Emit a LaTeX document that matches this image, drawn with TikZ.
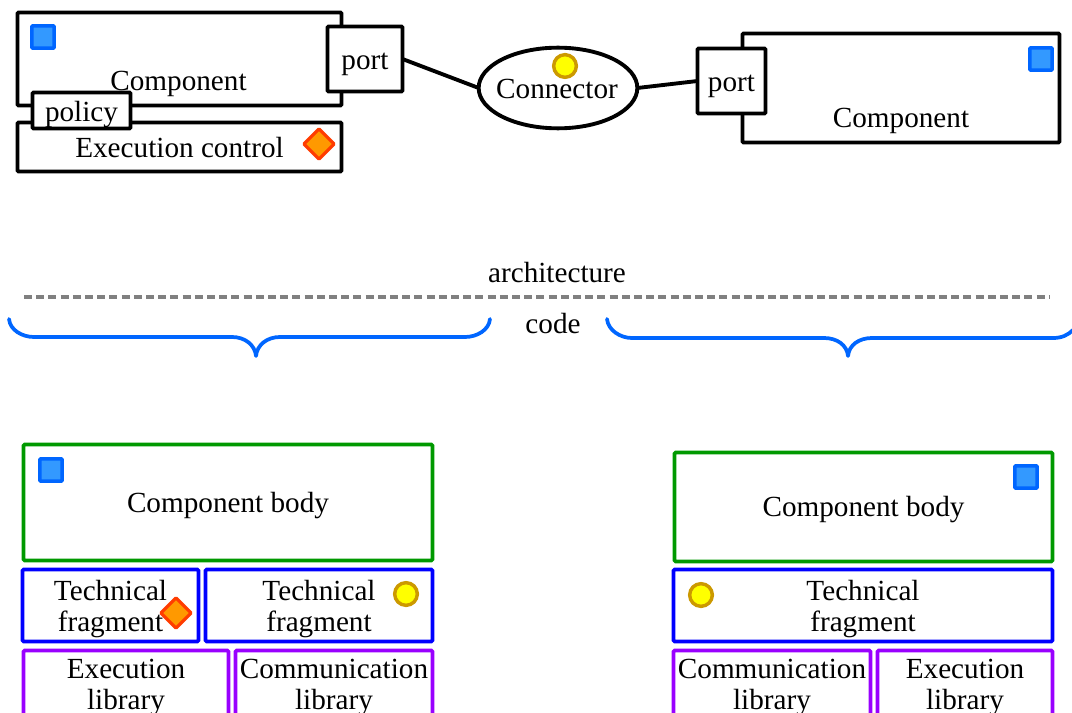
\documentclass[tikz,border=0pt]{standalone}
\usepackage{fontspec}
\setmainfont{Liberation Serif}
\usetikzlibrary{shapes.geometric}
\definecolor{sqfill}{HTML}{3399FF}
\definecolor{sqline}{HTML}{0066FF}
\definecolor{dmfill}{HTML}{FF9900}
\definecolor{dmline}{HTML}{FF3C00}
\definecolor{cifill}{HTML}{FFFF00}
\definecolor{ciline}{HTML}{CC9900}
\definecolor{grn}{HTML}{009900}
\definecolor{blu}{HTML}{0000FF}
\definecolor{pur}{HTML}{9900FF}
\definecolor{dashc}{HTML}{808080}
\tikzset{
  x=0.75pt,y=-0.75pt,
  lbl/.style={font=\fontsize{21.9}{23.25}\selectfont,align=center,inner sep=0pt},
  boxbase/.style={draw,fill=white,rectangle,rounded corners=0.8pt,line width=2.9pt,outer sep=0pt,inner sep=0pt},
  blackbox/.style={boxbase,draw=black},
  greenbox/.style={boxbase,draw=grn,line width=2.7pt},
  bluebox/.style={boxbase,draw=blu,line width=2.7pt},
  purplebox/.style={boxbase,draw=pur,line width=2.7pt},
  sq/.style={rectangle,draw=sqline,fill=sqfill,line width=2.6pt,minimum size=16.6pt,inner sep=0pt,rounded corners=0.6pt},
  dm/.style={rectangle,rotate=45,draw=dmline,fill=dmfill,line width=2.4pt,minimum size=16pt,inner sep=0pt,rounded corners=0.6pt},
  ci/.style={circle,draw=ciline,fill=cifill,line width=2.6pt,minimum size=17pt,inner sep=0pt},
  wire/.style={line width=2.9pt,draw=black},
  bracec/.style={line width=2.8pt,draw=sqline,line cap=round,line join=round},
}
% [style]{name}{x1}{y1}{x2}{y2}{text shift in px}{text}
\newcommand\boxn[8][]{%
  \pgfmathsetmacro\bw{(#5-#3-1)*0.75}%
  \pgfmathsetmacro\bh{(#6-#4-1)*0.75}%
  \node[#1,minimum width=\bw pt,minimum height=\bh pt] (#2) at ({(#3+#5)/2},{(#4+#6)/2}) {};
  \node[lbl] (#2-t) at ([yshift=-#7*0.75pt]#2.center) {#8};}
\begin{document}
\begin{tikzpicture}
\useasboundingbox (0,0) rectangle (1072,713);
\clip (0,0) rectangle (1072,713);
% top left
\boxn[blackbox]{compA}{17}{12}{342}{106}{0}{}
\node[lbl] (compAt) at (178.5,84) {Component};
\boxn[blackbox]{exec}{17}{122}{342}{172}{0.5}{Execution control}
\boxn[blackbox]{policy}{32}{92}{131}{129}{4}{policy}
\boxn[blackbox]{portA}{327}{26}{403}{92}{5}{port}
\node[sq] (sqA) at (43,37) {};
\node[dm] (dmA) at (319,144) {};
% connector
\node[draw,fill=white,ellipse,line width=2.9pt,minimum width=119pt,minimum height=60.5pt,outer sep=0pt,inner sep=0pt] (conn) at (558,88) {};
\node[ci] (ciA) at (565,66) {};
\node[lbl] (connt) at (557,89) {Connector};
% top right
\boxn[blackbox]{compB}{742}{33}{1060}{143}{0}{}
\node[lbl] (compBt) at (901,120.5) {Component};
\boxn[blackbox]{portB}{697}{48}{766}{114}{5}{port}
\node[sq] (sqB) at (1041,59) {};
\draw[wire] (portA.east |- 0,59) -- (conn.west);
\draw[wire] (conn.east) -- (portB.west |- 0,81);
% separator
\node[lbl] (arch) at (557,272.5) {architecture};
\node[lbl] (code) at (553,323.5) {code};
\coordinate (dashL) at (24,297);
\coordinate (dashR) at (1050,297);
\draw[dashc,line width=2.9pt,dash pattern=on 6pt off 3.15pt] (dashL) -- (dashR);
% braces
\draw[bracec] (9,319) .. controls (10,330) and (22,337) .. (34,337) -- (232,337)
  .. controls (245,337) and (255,345) .. (256,356)
  .. controls (257,345) and (267,337) .. (280,337) -- (465,337)
  .. controls (477,337) and (489,330) .. (490,319);
\draw[bracec] (607,319) .. controls (608,330) and (620,338) .. (632,338) -- (824,338)
  .. controls (837,338) and (847,345) .. (848,356)
  .. controls (849,345) and (859,338) .. (872,338) -- (1053,338)
  .. controls (1062,338) and (1068,335) .. (1073,330);
% bottom left
\boxn[greenbox]{bodyA}{23}{444}{433}{561}{3.5}{Component body}
\node[sq] (sqC) at (51,470) {};
\boxn[bluebox]{fragA}{22}{569}{199}{642}{4}{Technical\\fragment}
\boxn[bluebox]{fragB}{205}{569}{433}{642}{4}{Technical\\fragment}
\node[dm] (dmB) at (176,613) {};
\node[ci] (ciB) at (406,594) {};
\boxn[purplebox]{libA}{23}{650}{229}{717}{4}{Execution\\library}
\boxn[purplebox]{libB}{235}{650}{433}{717}{4}{Communication\\library}
% bottom right
\boxn[greenbox]{bodyB}{674}{452}{1053}{562}{3}{Component body}
\node[sq] (sqD) at (1026,477) {};
\boxn[bluebox]{fragC}{673}{569}{1053}{642}{4}{Technical\\fragment}
\node[ci] (ciC) at (701,595) {};
\boxn[purplebox]{libC}{673}{650}{871}{717}{4}{Communication\\library}
\boxn[purplebox]{libD}{877}{650}{1053}{717}{4}{Execution\\library}
\end{tikzpicture}
\end{document}
